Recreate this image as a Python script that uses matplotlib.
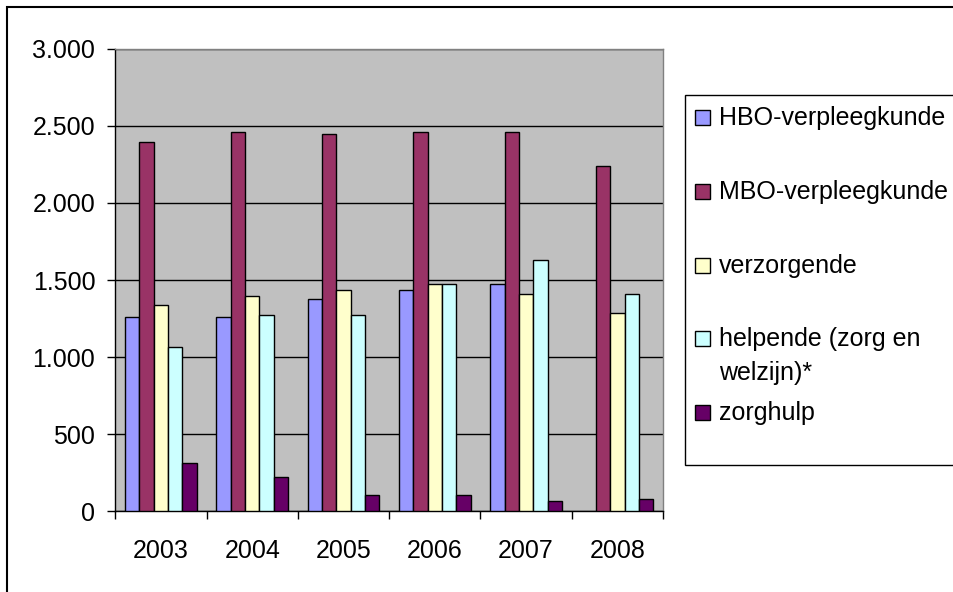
import numpy as np
import matplotlib
matplotlib.use("Agg")
import matplotlib.pyplot as plt
from matplotlib.patches import Rectangle
from matplotlib.ticker import FuncFormatter, MultipleLocator

plt.rcParams['font.family'] = ['Liberation Sans', 'DejaVu Sans']

years = ['2003', '2004', '2005', '2006', '2007', '2008']
series = ['HBO-verpleegkunde', 'MBO-verpleegkunde', 'verzorgende',
          'helpende (zorg en\nwelzijn)*', 'zorghulp']
hbo = [1263, 1263, 1380, 1432, 1471, np.nan]
mbo = [2396, 2461, 2450, 2461, 2461, 2240]
verzorgende = [1339, 1393, 1432, 1471, 1406, 1289]
helpende = [1068, 1274, 1274, 1471, 1628, 1406]
zorghulp = [312, 221, 104, 104, 67, 80]
colors = ['#9999FF', '#993366', '#FFFFCC', '#CCFFFF', '#660066']

values = [hbo, mbo, verzorgende, helpende, zorghulp]

W, H = 954, 592
fig = plt.figure(figsize=(W / 100, H / 100), dpi=100)
fig.patch.set_facecolor('white')

# outer chart frame (only left and top edge fall inside the image)
fig.add_artist(Rectangle((7 / W, -0.5), 2, (H - 7) / H + 0.5, transform=fig.transFigure,
                         fill=False, ec='black', lw=1.5))

left, right, top, bottom = 115.3, 663.0, 48.7, 511.3
ax = fig.add_axes([left / W, (H - bottom) / H, (right - left) / W, (bottom - top) / H])
ax.set_facecolor('#C0C0C0')

x = np.arange(len(years))
bw = 0.1566
for i, (vals, c) in enumerate(zip(values, colors)):
    ax.bar(x + (i - 2) * bw, vals, width=bw, color=c, edgecolor='black',
           linewidth=1.0, zorder=3)

ax.set_xlim(-0.5, len(years) - 0.5)
ax.set_ylim(0, 3000)
ax.yaxis.set_major_locator(MultipleLocator(500))
ax.yaxis.set_major_formatter(FuncFormatter(lambda v, p: f"{int(v):,}".replace(',', '.')))
ax.grid(axis='y', color='black', linewidth=1.0, zorder=1)

ax.set_xticks(x)
ax.set_xticklabels(years)
ax.set_xticks(np.arange(len(years) + 1) - 0.5, minor=True)
ax.tick_params(axis='x', which='major', length=0, pad=20, labelsize=18)
ax.tick_params(axis='x', which='minor', length=5.5, width=1.0, color='black')
ax.tick_params(axis='y', length=5.8, width=1.0, pad=8.6, labelsize=18, color='black')

for s in ['top', 'right']:
    ax.spines[s].set_color('#808080')
for s in ['left', 'bottom']:
    ax.spines[s].set_color('black')
for s in ax.spines.values():
    s.set_linewidth(1.0)

# legend box
fig.add_artist(Rectangle((685 / W, (H - 465) / H), 1.0, (465 - 95) / H,
                         transform=fig.transFigure, fc='white', ec='black', lw=1.0))
baselines = [125, 199.3, 272.7, 346, 420]
for name, c, yb in zip(series, colors, baselines):
    fig.add_artist(Rectangle((695 / W, (H - yb) / H), 15 / W, 15 / H,
                             transform=fig.transFigure, fc=c, ec='black', lw=1.0))
    for k, line in enumerate(name.split('\n')):
        fig.text(719 / W, (H - yb - 34 * k) / H, line, fontsize=18,
                 ha='left', va='baseline')

fig.savefig('out.png', dpi=100)
